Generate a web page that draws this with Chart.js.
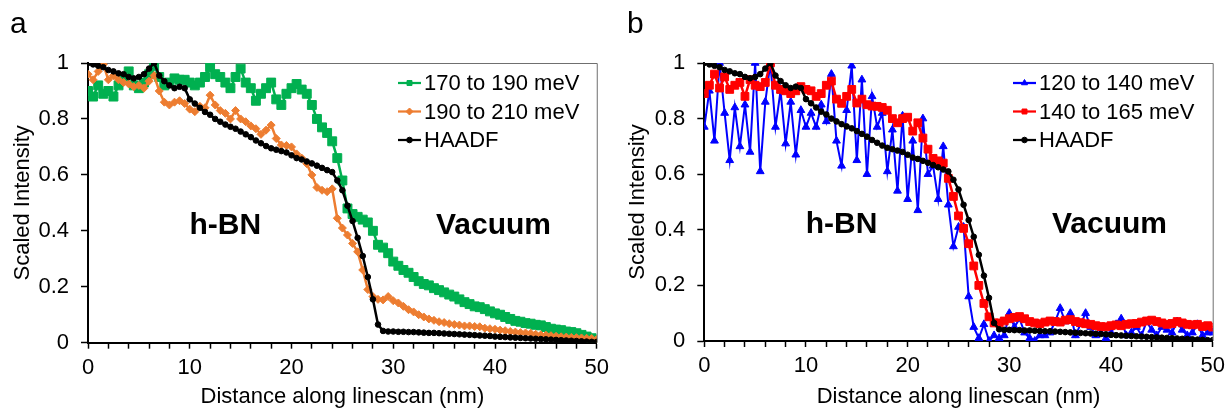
<!DOCTYPE html>
<html><head><meta charset="utf-8">
<script src="https://cdn.jsdelivr.net/npm/chart.js@4.4.1/dist/chart.umd.min.js"></script>
<style>
html,body{margin:0;padding:0;background:#fff;overflow:hidden}
#wrap{position:relative;width:1231px;height:413px}
canvas{position:absolute;top:0}
</style></head><body>
<div id="wrap">
<canvas id="ca" width="615" height="413" style="left:0"></canvas>
<canvas id="cb" width="616" height="413" style="left:615px"></canvas>
</div>
<script>
// ---------- DATA ----------
const distanceNm = [0,0.5,1,1.5,2,2.5,3,3.5,4,4.5,5,5.5,6,6.5,7,7.5,8,8.5,9,9.5,10,10.5,11,11.5,12,12.5,13,13.5,14,14.5,15,15.5,16,16.5,17,17.5,18,18.5,19,19.5,20,20.5,21,21.5,22,22.5,23,23.5,24,24.5,25,25.5,26,26.5,27,27.5,28,28.5,29,29.5,30,30.5,31,31.5,32,32.5,33,33.5,34,34.5,35,35.5,36,36.5,37,37.5,38,38.5,39,39.5,40,40.5,41,41.5,42,42.5,43,43.5,44,44.5,45,45.5,46,46.5,47,47.5,48,48.5,49,49.5,50];

const haadf = [1.00,0.995,0.99,0.985,0.975,0.97,0.963,0.96,0.95,0.945,0.95,0.96,0.98,1.00,0.955,0.935,0.92,0.91,0.915,0.91,0.87,0.855,0.84,0.825,0.815,0.80,0.79,0.78,0.772,0.765,0.755,0.745,0.735,0.723,0.713,0.703,0.695,0.69,0.685,0.68,0.67,0.66,0.655,0.648,0.641,0.633,0.625,0.617,0.61,0.58,0.545,0.49,0.435,0.375,0.31,0.235,0.155,0.065,0.042,0.04,0.04,0.039,0.039,0.038,0.038,0.037,0.036,0.035,0.035,0.034,0.033,0.032,0.031,0.03,0.029,0.028,0.027,0.026,0.025,0.024,0.022,0.021,0.02,0.019,0.018,0.017,0.016,0.015,0.014,0.013,0.012,0.011,0.01,0.009,0.008,0.007,0.006,0.005,0.004,0.003,0.003];

const green170to190 = [0.90,0.88,0.92,0.89,0.90,0.88,0.92,0.95,0.97,0.92,0.91,0.93,0.96,0.99,0.95,0.92,0.93,0.945,0.94,0.94,0.93,0.92,0.93,0.95,0.985,0.96,0.95,0.93,0.91,0.95,0.98,0.93,0.91,0.865,0.89,0.91,0.93,0.87,0.85,0.89,0.91,0.925,0.905,0.89,0.85,0.80,0.77,0.75,0.72,0.66,0.58,0.48,0.46,0.45,0.44,0.43,0.40,0.35,0.34,0.32,0.29,0.275,0.26,0.25,0.235,0.22,0.21,0.205,0.195,0.188,0.18,0.172,0.165,0.155,0.145,0.138,0.13,0.127,0.12,0.112,0.105,0.10,0.092,0.085,0.078,0.075,0.07,0.068,0.064,0.062,0.056,0.05,0.047,0.045,0.04,0.038,0.034,0.028,0.022,0.016,0.01];

const orange190to210 = [0.96,0.94,0.97,0.995,0.94,0.955,0.94,0.93,0.925,0.915,0.92,0.91,0.935,0.955,0.90,0.86,0.85,0.86,0.865,0.855,0.835,0.826,0.845,0.84,0.885,0.85,0.83,0.82,0.80,0.83,0.80,0.79,0.775,0.765,0.745,0.76,0.778,0.73,0.707,0.705,0.70,0.675,0.66,0.64,0.60,0.555,0.545,0.54,0.55,0.445,0.41,0.385,0.355,0.325,0.26,0.19,0.165,0.155,0.153,0.165,0.15,0.142,0.13,0.118,0.11,0.10,0.092,0.085,0.08,0.075,0.072,0.068,0.065,0.063,0.06,0.06,0.058,0.057,0.052,0.05,0.048,0.045,0.043,0.04,0.038,0.036,0.035,0.034,0.03,0.028,0.027,0.025,0.023,0.021,0.02,0.019,0.018,0.017,0.016,0.015,0.012];

const blue120to140 = [0.77,0.90,0.72,1.00,0.82,0.65,0.84,0.70,0.85,0.68,1.00,0.61,0.86,1.00,0.77,0.90,0.71,0.86,0.67,0.83,0.77,0.82,0.77,0.85,0.79,0.96,0.72,0.63,0.83,0.99,0.65,0.94,0.60,0.88,0.77,0.82,0.61,0.76,0.54,0.81,0.51,0.72,0.47,0.80,0.60,0.63,0.51,0.70,0.49,0.34,0.41,0.41,0.16,0.05,0.01,0.06,0.0,0.02,0.01,0.02,0.10,0.05,0.08,0.03,0.01,0.0,0.02,0.02,0.03,0.07,0.118,0.07,0.10,0.02,0.06,0.10,0.05,0.02,0.03,0.01,0.03,0.06,0.08,0.02,0.03,0.05,0.02,0.07,0.04,0.02,0.05,0.04,0.03,0.07,0.04,0.02,0.03,0.06,0.02,0.03,0.03];

const red140to165 = [0.89,0.92,0.96,0.91,0.95,0.905,0.92,0.93,0.88,0.94,0.92,0.915,0.93,1.00,0.92,0.905,0.90,0.89,0.90,0.915,0.905,0.90,0.88,0.89,0.92,0.935,0.87,0.855,0.88,0.905,0.856,0.87,0.85,0.845,0.844,0.84,0.83,0.80,0.785,0.80,0.805,0.755,0.785,0.73,0.69,0.657,0.648,0.64,0.585,0.52,0.45,0.405,0.35,0.27,0.20,0.135,0.087,0.065,0.065,0.072,0.08,0.085,0.088,0.08,0.07,0.065,0.062,0.068,0.072,0.07,0.068,0.075,0.077,0.07,0.066,0.062,0.06,0.055,0.052,0.051,0.055,0.058,0.055,0.06,0.062,0.063,0.068,0.072,0.075,0.07,0.065,0.06,0.063,0.07,0.065,0.06,0.058,0.06,0.052,0.055,0.05];

const xTickValues = [0,2,4,6,8,10,12,14,16,18,20,22,24,26,28,30,32,34,36,38,40,42,44,46,48,50];
const xTickLabels = [0,10,20,30,40,50];
const yTickValues = [0,0.2,0.4,0.6,0.8,1];

// ---------- STYLE ----------
const FONT = "'Liberation Sans', Arial, sans-serif";

function pts(ys){ return distanceNm.map((x,i)=>({x:x,y:ys[i]})); }

function ds(label, ys, color, style, r, order, lw){
  return {label:label, data:pts(ys), borderColor:color, backgroundColor:color,
    pointBackgroundColor:color, pointBorderColor:color, pointStyle:style,
    pointRadius:r, pointBorderWidth:1, borderWidth:lw, order:order, tension:0};
}

function makeChart(id, datasets, opts){
  const overlay = {
    id:'overlay',
    beforeDatasetsDraw(chart){
      const a = chart.chartArea, ctx = chart.ctx;
      ctx.save();
      ctx.strokeStyle = '#6f6f6f'; ctx.lineWidth = 1;
      ctx.beginPath();
      ctx.moveTo(a.left, a.top+0.5); ctx.lineTo(a.right+0.5, a.top+0.5); ctx.lineTo(a.right+0.5, a.bottom);
      ctx.stroke();
      ctx.restore();
    },
    afterDraw(chart){
      const ctx = chart.ctx, sx = chart.scales.x, sy = chart.scales.y;
      ctx.save();
      // legend
      datasets.slice().sort((p,q)=>q.order-p.order).forEach((d,i)=>{
        const y = opts.legendY + i*28.5, x0 = opts.legendX;
        ctx.strokeStyle = d.borderColor; ctx.fillStyle = d.borderColor; ctx.lineWidth = 2.25;
        ctx.beginPath(); ctx.moveTo(x0, y); ctx.lineTo(x0+23, y); ctx.stroke();
        ctx.lineWidth = 1;
        Chart.helpers.drawPoint(ctx, {pointStyle:d.pointStyle, radius:Math.min(d.pointRadius,3.5), borderWidth:1, rotation:0}, x0+11.5, y);
        ctx.fillStyle = '#000'; ctx.font = '22px ' + FONT; ctx.textBaseline = 'middle'; ctx.textAlign='left';
        ctx.fillText(d.label, x0+26, y+1);
      });
      // region annotations
      ctx.font = 'bold 30px ' + FONT; ctx.textAlign = 'center'; ctx.textBaseline = 'alphabetic'; ctx.fillStyle = '#000';
      ctx.fillText('h-BN', sx.getPixelForValue(13.5), sy.getPixelForValue(0.39));
      ctx.fillText('Vacuum', sx.getPixelForValue(39.85), sy.getPixelForValue(0.39));
      // panel label
      ctx.font = '30px ' + FONT; ctx.textAlign = 'left';
      ctx.fillText(opts.panel, opts.panelX, 33);
      ctx.restore();
    }
  };
  return new Chart(document.getElementById(id), {
    type:'line',
    data:{datasets:datasets},
    options:{
      responsive:false, animation:false, devicePixelRatio:1,
      layout:{padding:{left:0, top:63, right:opts.padRight, bottom:0}},
      plugins:{legend:{display:false}, tooltip:{enabled:false}},
      scales:{
        x:{type:'linear', min:0, max:50,
          afterBuildTicks:s=>{ s.ticks = xTickValues.map(v=>({value:v})); },
          afterFit:s=>{ s.height = opts.xH; },
          ticks:{autoSkip:false, maxRotation:0, padding:6, color:'#000', font:{size:22, family:FONT},
            callback:v=> xTickLabels.includes(v) ? String(v) : ''},
          grid:{display:true, drawOnChartArea:false, drawTicks:true, tickLength:6, tickWidth:1.5, tickColor:'#000'},
          border:{display:true, color:'#000', width:2},
          title:{display:true, text:'Distance along linescan (nm)', color:'#000', font:{size:22, family:FONT}, padding:{top:0, bottom:3}}
        },
        y:{type:'linear', min:0, max:1,
          afterBuildTicks:s=>{ s.ticks = yTickValues.map(v=>({value:v})); },
          afterFit:s=>{ s.width = opts.yW; },
          ticks:{padding:12, color:'#000', font:{size:22, family:FONT}, callback:v=>String(v)},
          grid:{display:true, drawOnChartArea:false, drawTicks:true, tickLength:7, tickWidth:1.5, tickColor:'#000'},
          border:{display:true, color:'#000', width:2},
          title:{display:true, text:'Scaled Intensity', color:'#000', font:{size:22, family:FONT}, padding:{top:10, bottom:0}}
        }
      }
    },
    plugins:[overlay]
  });
}

makeChart('ca', [
  ds('170 to 190 meV', green170to190, '#00B050', 'rect', 6.3, 3, 2.5),
  ds('190 to 210 meV', orange190to210, '#ED7D31', 'rectRot', 4, 2, 2.5),
  ds('HAADF', haadf, '#000000', 'circle', 2.8, 1, 2.5)
], {legendX:398, legendY:83, panel:'a', panelX:10, padRight:17.3, yW:88, xH:70.3});

makeChart('cb', [
  ds('120 to 140 meV', blue120to140, '#0000FF', 'triangle', 4.5, 3, 2),
  ds('140 to 165 meV', red140to165, '#FF0000', 'rect', 5.5, 2, 2.5),
  ds('HAADF', haadf, '#000000', 'circle', 2.8, 1, 2.5)
], {legendX:398, legendY:83, panel:'b', panelX:12, padRight:18.3, yW:89.3, xH:72});
</script>
</body></html>
